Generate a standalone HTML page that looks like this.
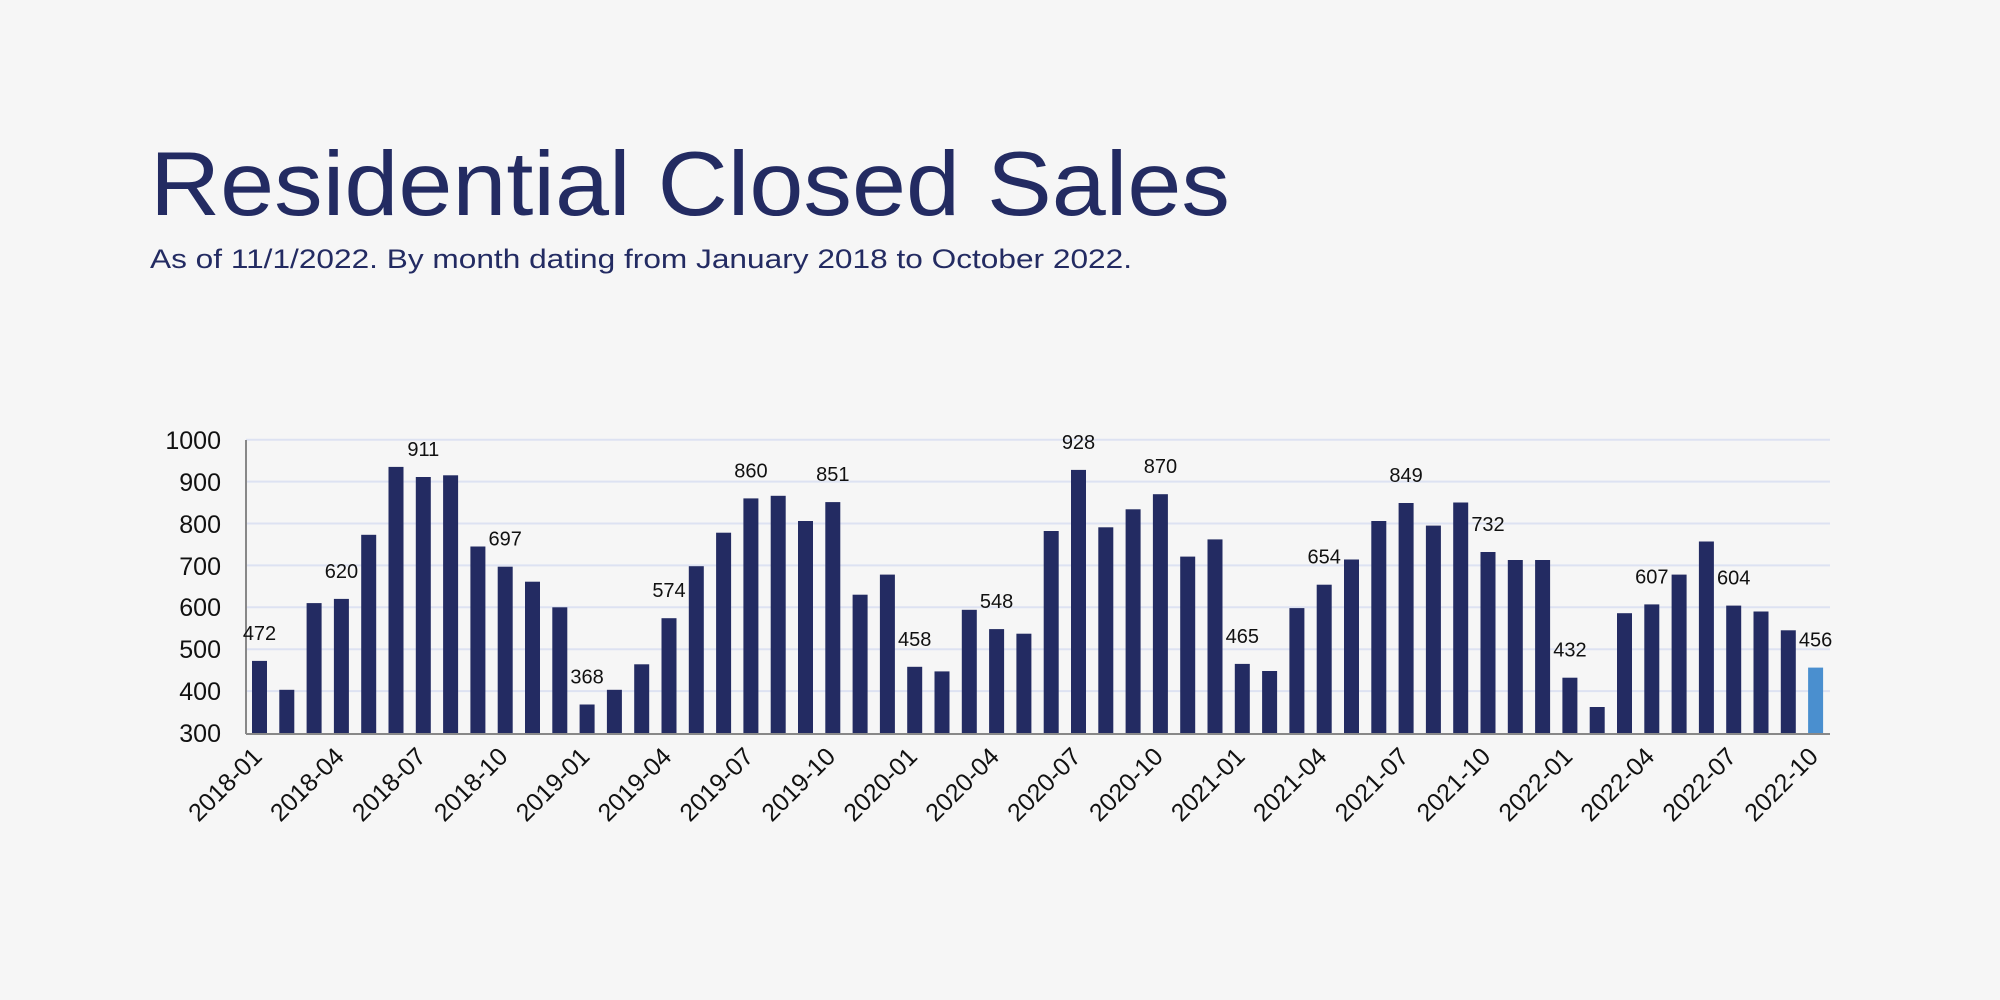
<!DOCTYPE html>
<html><head><meta charset="utf-8"><style>
html,body{margin:0;padding:0;background:#f6f6f6;}
svg{display:block;font-family:"Liberation Sans",Arial,sans-serif;}
</style></head><body>
<svg width="2000" height="1000" viewBox="0 0 2000 1000" xmlns="http://www.w3.org/2000/svg">
<rect width="2000" height="1000" fill="#f6f6f6"/>
<text x="150" y="215" font-size="91" fill="#232b62" textLength="1080" lengthAdjust="spacingAndGlyphs">Residential Closed Sales</text>
<text x="150" y="268" font-size="27" fill="#232b62" textLength="982" lengthAdjust="spacingAndGlyphs">As of 11/1/2022. By month dating from January 2018 to October 2022.</text>
<g stroke="#dde2f2" stroke-width="2">
<line x1="246" x2="1830" y1="439.7" y2="439.7"/><line x1="246" x2="1830" y1="481.6" y2="481.6"/><line x1="246" x2="1830" y1="523.5" y2="523.5"/><line x1="246" x2="1830" y1="565.4" y2="565.4"/><line x1="246" x2="1830" y1="607.3" y2="607.3"/><line x1="246" x2="1830" y1="649.2" y2="649.2"/><line x1="246" x2="1830" y1="691.1" y2="691.1"/>
</g>
<g fill="#232b62">
<rect x="252" y="660.9" width="15" height="300"/><rect x="279.3" y="689.8" width="15" height="300"/><rect x="306.6" y="603.1" width="15" height="300"/><rect x="333.9" y="598.9" width="15" height="300"/><rect x="361.2" y="534.8" width="15" height="300"/><rect x="388.5" y="466.9" width="15" height="300"/><rect x="415.8" y="477" width="15" height="300"/><rect x="443.1" y="475.3" width="15" height="300"/><rect x="470.4" y="546.5" width="15" height="300"/><rect x="497.7" y="566.7" width="15" height="300"/><rect x="525" y="581.7" width="15" height="300"/><rect x="552.3" y="607.3" width="15" height="300"/>
<rect x="579.6" y="704.5" width="15" height="300"/><rect x="606.9" y="689.8" width="15" height="300"/><rect x="634.2" y="664.3" width="15" height="300"/><rect x="661.5" y="618.2" width="15" height="300"/><rect x="688.8" y="566.2" width="15" height="300"/><rect x="716.1" y="532.7" width="15" height="300"/><rect x="743.4" y="498.4" width="15" height="300"/><rect x="770.7" y="495.8" width="15" height="300"/><rect x="798" y="521" width="15" height="300"/><rect x="825.3" y="502.1" width="15" height="300"/><rect x="852.6" y="594.7" width="15" height="300"/><rect x="879.9" y="574.6" width="15" height="300"/>
<rect x="907.2" y="666.8" width="15" height="300"/><rect x="934.5" y="671.4" width="15" height="300"/><rect x="961.8" y="609.8" width="15" height="300"/><rect x="989.1" y="629.1" width="15" height="300"/><rect x="1016.4" y="633.7" width="15" height="300"/><rect x="1043.7" y="531" width="15" height="300"/><rect x="1071" y="469.9" width="15" height="300"/><rect x="1098.3" y="527.3" width="15" height="300"/><rect x="1125.6" y="509.3" width="15" height="300"/><rect x="1152.9" y="494.2" width="15" height="300"/><rect x="1180.2" y="556.6" width="15" height="300"/><rect x="1207.5" y="539.4" width="15" height="300"/>
<rect x="1234.8" y="663.9" width="15" height="300"/><rect x="1262.1" y="671" width="15" height="300"/><rect x="1289.4" y="608.1" width="15" height="300"/><rect x="1316.7" y="584.7" width="15" height="300"/><rect x="1344" y="559.5" width="15" height="300"/><rect x="1371.3" y="521" width="15" height="300"/><rect x="1398.6" y="503" width="15" height="300"/><rect x="1425.9" y="525.6" width="15" height="300"/><rect x="1453.2" y="502.5" width="15" height="300"/><rect x="1480.5" y="552" width="15" height="300"/><rect x="1507.8" y="560" width="15" height="300"/><rect x="1535.1" y="560" width="15" height="300"/>
<rect x="1562.4" y="677.7" width="15" height="300"/><rect x="1589.7" y="707" width="15" height="300"/><rect x="1617" y="613.2" width="15" height="300"/><rect x="1644.3" y="604.4" width="15" height="300"/><rect x="1671.6" y="574.6" width="15" height="300"/><rect x="1698.9" y="541.5" width="15" height="300"/><rect x="1726.2" y="605.6" width="15" height="300"/><rect x="1753.5" y="611.5" width="15" height="300"/><rect x="1780.8" y="630.3" width="15" height="300"/>
<rect x="1808.1" y="667.6" width="15" height="300" fill="#4a8fcf"/>
</g>
<rect x="0" y="734" width="2000" height="266" fill="#f6f6f6"/>
<g font-size="25" text-anchor="end" fill="#111">
<text x="221" y="449">1000</text><text x="221" y="491">900</text><text x="221" y="533">800</text><text x="221" y="575">700</text><text x="221" y="616">600</text><text x="221" y="658">500</text><text x="221" y="700">400</text><text x="221" y="742">300</text>
</g>
<line x1="246" x2="246" y1="440" y2="734" stroke="#888" stroke-width="2"/>
<line x1="246" x2="1830" y1="734" y2="734" stroke="#888" stroke-width="2"/>
<g font-size="20" text-anchor="middle" fill="#111">
<text x="259.5" y="639.9">472</text><text x="341.4" y="577.9">620</text><text x="423.3" y="456">911</text><text x="505.2" y="545.7">697</text>
<text x="587.1" y="683.5">368</text><text x="669" y="597.2">574</text><text x="750.9" y="477.4">860</text><text x="832.8" y="481.1">851</text>
<text x="914.7" y="645.8">458</text><text x="996.6" y="608.1">548</text><text x="1078.5" y="448.9">928</text><text x="1160.4" y="473.2">870</text>
<text x="1242.3" y="642.9">465</text><text x="1324.2" y="563.7">654</text><text x="1406.1" y="482">849</text><text x="1488" y="531">732</text>
<text x="1569.9" y="656.7">432</text><text x="1651.8" y="583.4">607</text><text x="1733.7" y="584.6">604</text><text x="1815.6" y="646.6">456</text>
</g>
<g font-size="25" text-anchor="end" fill="#111">
<text transform="translate(263.5,758) rotate(-45)">2018-01</text>
<text transform="translate(345.4,758) rotate(-45)">2018-04</text>
<text transform="translate(427.3,758) rotate(-45)">2018-07</text>
<text transform="translate(509.2,758) rotate(-45)">2018-10</text>
<text transform="translate(591.1,758) rotate(-45)">2019-01</text>
<text transform="translate(673,758) rotate(-45)">2019-04</text>
<text transform="translate(754.9,758) rotate(-45)">2019-07</text>
<text transform="translate(836.8,758) rotate(-45)">2019-10</text>
<text transform="translate(918.7,758) rotate(-45)">2020-01</text>
<text transform="translate(1000.6,758) rotate(-45)">2020-04</text>
<text transform="translate(1082.5,758) rotate(-45)">2020-07</text>
<text transform="translate(1164.4,758) rotate(-45)">2020-10</text>
<text transform="translate(1246.3,758) rotate(-45)">2021-01</text>
<text transform="translate(1328.2,758) rotate(-45)">2021-04</text>
<text transform="translate(1410.1,758) rotate(-45)">2021-07</text>
<text transform="translate(1492,758) rotate(-45)">2021-10</text>
<text transform="translate(1573.9,758) rotate(-45)">2022-01</text>
<text transform="translate(1655.8,758) rotate(-45)">2022-04</text>
<text transform="translate(1737.7,758) rotate(-45)">2022-07</text>
<text transform="translate(1819.6,758) rotate(-45)">2022-10</text>
</g>
</svg>
</body></html>
